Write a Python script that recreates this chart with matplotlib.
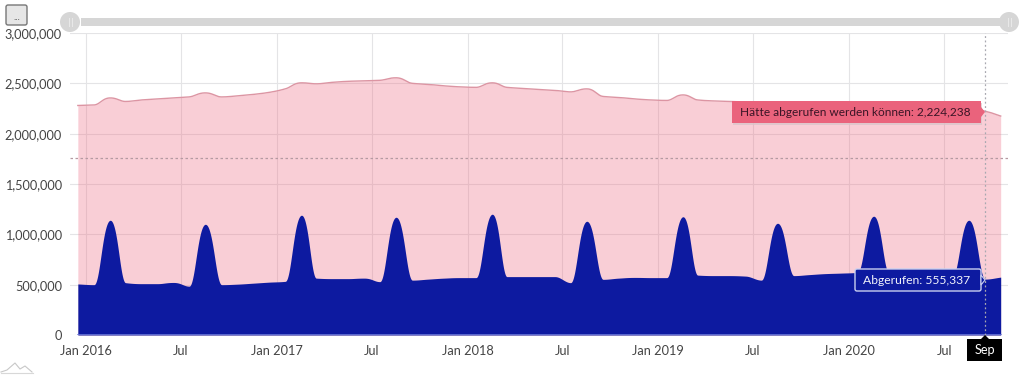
import numpy as np
import pandas as pd
import matplotlib
matplotlib.use("Agg")
import matplotlib.pyplot as plt
import matplotlib.dates as mdates
from matplotlib.patches import FancyBboxPatch, Polygon, Circle, Rectangle

plt.rcParams['font.family'] = ['Lato', 'DejaVu Sans']

# monthly values, Dec 2015 .. Oct 2020
months = pd.date_range('2015-12-01', periods=59, freq='MS') + pd.Timedelta(days=16)

could_have = [
    2280000,
    2285000, 2355000, 2320000, 2335000, 2345000, 2355000, 2365000, 2405000, 2365000, 2375000, 2390000, 2410000,
    2445000, 2505000, 2495000, 2510000, 2520000, 2525000, 2530000, 2555000, 2500000, 2490000, 2475000, 2465000,
    2460000, 2505000, 2460000, 2450000, 2440000, 2430000, 2415000, 2445000, 2370000, 2360000, 2345000, 2335000,
    2330000, 2385000, 2335000, 2325000, 2320000, 2315000, 2310000, 2305000, 2290000, 2285000, 2280000, 2275000,
    2270000, 2290000, 2265000, 2260000, 2255000, 2250000, 2245000, 2250000, 2224238, 2175000,
]
retrieved = [
    507000,
    500000, 1140000, 520000, 510000, 510000, 522000, 485000, 1100000, 500000, 505000, 515000, 525000,
    533000, 1190000, 565000, 560000, 560000, 565000, 530000, 1170000, 545000, 555000, 565000, 570000,
    570000, 1200000, 580000, 580000, 580000, 580000, 520000, 1130000, 553000, 565000, 572000, 570000,
    570000, 1175000, 595000, 590000, 590000, 585000, 545000, 1110000, 590000, 600000, 610000, 615000,
    622000, 1180000, 620000, 625000, 625000, 620000, 590000, 1140000, 555337, 575000,
]

x_labels = ['Jan 2016', 'Jul', 'Jan 2017', 'Jul', 'Jan 2018', 'Jul', 'Jan 2019', 'Jul', 'Jan 2020', 'Jul']
x_ticks = pd.date_range('2016-01-01', periods=10, freq='6MS')
y_ticks = [0, 500000, 1000000, 1500000, 2000000, 2500000, 3000000]
guide_value = 1758000


def smooth(x, y, per_seg=30):
    # bezier through the monthly points, slightly longer handles on the peaks
    x = np.asarray(x, float)
    y = np.asarray(y, float)
    h = np.diff(x)
    d = np.diff(y) / h
    m = np.zeros_like(y)
    f = np.full_like(y, 0.36)
    m[0], m[-1] = d[0], d[-1]
    for k in range(1, len(y) - 1):
        if d[k - 1] * d[k] > 0:
            m[k] = 2 * d[k - 1] * d[k] / (d[k - 1] + d[k])
        elif d[k - 1] > 0:
            f[k] = 0.48
    xs, ys = [], []
    t = np.linspace(0, 1, per_seg, endpoint=False)
    b0, b1, b2, b3 = (1 - t) ** 3, 3 * t * (1 - t) ** 2, 3 * t ** 2 * (1 - t), t ** 3
    for k in range(len(h)):
        a, b = f[k] * h[k], f[k + 1] * h[k]
        xs.append(b0 * x[k] + b1 * (x[k] + a) + b2 * (x[k + 1] - b) + b3 * x[k + 1])
        ys.append(b0 * y[k] + b1 * (y[k] + a * m[k]) + b2 * (y[k + 1] - b * m[k + 1]) + b3 * y[k + 1])
    return np.append(np.concatenate(xs), x[-1]), np.append(np.concatenate(ys), y[-1])


W, H = 1024, 379
fig = plt.figure(figsize=(W / 100, H / 100), dpi=100)
ax = fig.add_axes([70 / W, 1 - 335 / H, 938 / W, 302 / H])

xn = mdates.date2num(months)
xr, red = smooth(xn, could_have)
xb, blue = smooth(xn, retrieved)

ax.fill_between(xr, 0, red, color='#EE6C84', alpha=0.33, lw=0, zorder=2)
ax.plot(xr, red, color='#DC95A3', lw=1, zorder=3)
ax.fill_between(xb, 0, blue, color='#0D1AA0', lw=0, zorder=4)
ax.plot(xn[[0, -1]], [0, 0], color='#6A78D8', lw=1.2, zorder=5)

ax.set_xlim(mdates.date2num(pd.Timestamp('2015-12-02')), mdates.date2num(pd.Timestamp('2020-10-31')))
ax.set_ylim(0, 3000000)
ax.set_xticks(mdates.date2num(x_ticks))
ax.set_xticklabels(x_labels)
ax.set_yticks(y_ticks)
ax.set_yticklabels([f'{v:,}' for v in y_ticks])
ax.tick_params(length=0, labelsize=9.2, labelcolor='#444444')
ax.tick_params(axis='x', pad=7)
ax.tick_params(axis='y', pad=5.8)
ax.grid(True, color='#E4E4E6', lw=0.8, zorder=1)
ax.set_axisbelow(True)
for s in ax.spines.values():
    s.set_visible(False)

ax.axhline(guide_value, color='#B59AA2', lw=0.9, ls=(0, (2, 2)), zorder=3)
ax.axvline(xn[-2], color='#A8A8B0', lw=0.9, ls=(0, (1.5, 2)), zorder=6)

# scrollbar, button, tooltips: overlay in pixel coordinates
ov = fig.add_axes([0, 0, 1, 1], zorder=10)
ov.set_xlim(0, W)
ov.set_ylim(H, 0)
ov.axis('off')
ov.patch.set_alpha(0)

ov.add_patch(Rectangle((81, 18), 919, 8, color='#D6D6D6', lw=0))
for cx in (70, 1009):
    ov.add_patch(Circle((cx, 22), 10, color='#D6D6D6', lw=0))
    ov.plot([cx - 1.5, cx - 1.5], [18, 26], color='#E8E8E8', lw=0.8)
    ov.plot([cx + 1.5, cx + 1.5], [18, 26], color='#E8E8E8', lw=0.8)

ov.add_patch(FancyBboxPatch((6, 5), 21, 20, boxstyle='round,pad=0,rounding_size=2',
                            fc='#E6E6E6', ec='#777777', lw=1))
ov.text(16.5, 17, '...', ha='center', va='center', fontsize=7, color='#444444')

# hätte abgerufen tooltip
ov.add_patch(Rectangle((733, 103), 249, 22, color='#D8C4C8', lw=0, alpha=0.7))
ov.add_patch(Rectangle((732, 101), 249, 22, color='#EA637C', lw=0))
ov.add_patch(Polygon([[981, 107], [985, 112], [981, 117]], color='#EA637C', lw=0))
ov.text(855, 112.5, 'Hätte abgerufen werden können: 2,224,238', ha='center', va='center',
        fontsize=8.6, color='#3A1526')

# abgerufen tooltip
ov.add_patch(FancyBboxPatch((855, 269), 126, 22, boxstyle='round,pad=0,rounding_size=2',
                            fc='#0D1AA0', ec='#C9D0F0', lw=1))
ov.add_patch(Polygon([[981, 275], [985, 280], [981, 285]], fc='#0D1AA0', ec='#C9D0F0', lw=0.8))
ov.text(917, 280.5, 'Abgerufen: 555,337', ha='center', va='center', fontsize=8.7, color='#F2F3FB')

# sep label
ov.add_patch(Rectangle((967, 339), 35, 22, color='black', lw=0))
ov.add_patch(Polygon([[981, 339], [985, 335], [989, 339]], color='black', lw=0))
ov.text(984.5, 350.5, 'Sep', ha='center', va='center', fontsize=9.2, color='white')

# logo
ov.plot([1, 7, 15, 20, 25, 32], [372, 370, 363, 369, 366, 372], color='#C8C8C8', lw=0.8)
ov.plot([1, 33], [372.5, 372.5], color='#D8D8D8', lw=0.8)

fig.savefig('out.png', dpi=100)
